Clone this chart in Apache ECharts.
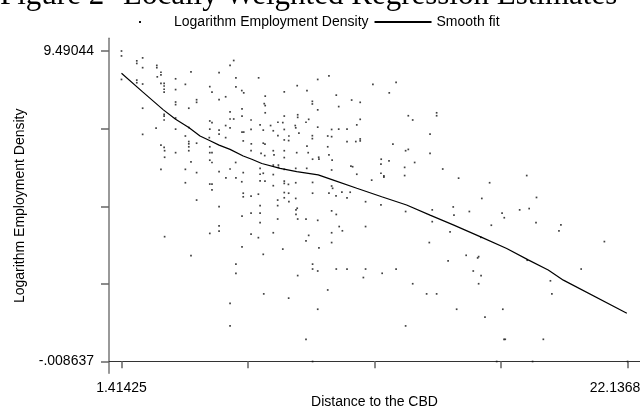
<!DOCTYPE html>
<html><head><meta charset="utf-8">
<script src="https://cdn.jsdelivr.net/npm/echarts@6/dist/echarts.min.js"></script>
<style>html,body{margin:0;padding:0;background:#fff}#c{width:640px;height:407px}</style>
</head><body><div id="c"></div>
<script>
// [distance to CBD, log employment density]
const observations = [
[1.414,9.49],[1.414,9.34],[2.04,9.19],[2.04,9.11],[2.28,9.28],[2.28,8.98],[2.04,8.60],[2.04,8.52],[2.28,8.48],[1.414,8.62],
[2.86,9.05],[2.86,8.98],[3.03,8.84],[3.03,8.76],[2.88,8.70],[4.26,8.85],[3.16,8.50],[3.16,8.42],[3.16,8.32],[3.16,8.23],
[3.03,8.50],[3.63,8.64],[3.63,8.31],[4.03,8.47],[3.63,7.93],[3.63,7.85],[4.49,8.00],[4.49,7.92],[2.28,7.74],[4.17,7.74],
[3.16,7.55],[3.16,7.50],[3.16,7.38],[3.63,7.44],[2.83,7.13],[2.28,6.94],[3.63,7.10],[4.17,7.15],[4.03,6.89],[4.17,6.72],
[4.17,6.65],[4.17,6.56],[3.03,6.61],[3.16,6.54],[4.49,6.67],
[3.18,6.44],[3.63,6.38],[4.17,6.44],[3.18,6.24],[4.26,6.10],[3.03,5.87],[4.03,5.87],[4.49,5.77],[4.03,5.46],[4.49,4.93],
[3.18,3.81],[4.26,3.23],
[6.01,9.20],[5.86,9.05],[5.41,8.83],[6.10,8.67],[7.03,8.67],[9.91,8.73],[9.45,8.62],[11.71,8.47],[12.66,8.53],[12.38,8.21],
[5.03,8.40],[5.12,8.23],[6.10,8.39],[6.34,8.28],[6.42,8.21],[8.61,8.43],[8.08,8.24],[9.01,8.28],[7.30,8.11],[10.21,8.14],
[10.84,7.99],[11.19,7.92],[5.41,8.00],[5.68,8.09],[9.23,7.95],[9.23,7.87],[10.31,7.79],[7.26,7.88],[7.30,7.82],[9.45,7.69],
[6.35,7.72],[5.86,7.63],[7.30,7.60],[8.08,7.50],[8.63,7.54],[8.63,7.46],[9.08,7.40],[8.97,7.31],[5.86,7.41],[6.01,7.41],
[6.35,7.50],[6.72,7.38],[7.82,7.31],[8.02,7.30],[5.03,7.35],[5.12,7.30],[11.19,7.40],[11.05,7.23],[7.09,7.23],[7.52,7.21],
[5.68,7.21],[5.86,7.14],[5.41,7.07],[5.03,7.10],[6.72,7.09],[7.22,7.07],[7.63,7.05],[8.08,7.09],[8.53,7.21],[8.55,7.14],
[9.45,7.16],[10.02,7.09],[10.31,7.10],[10.65,7.10],[6.35,7.01],[6.42,7.01],[5.41,6.95],[5.68,6.84],[5.01,6.84],[7.82,6.90],
[8.27,6.89],[8.68,6.98],[9.86,6.89],[10.02,6.87],[9.23,6.90],[9.23,6.81],[7.22,6.67],[7.29,6.64],[6.73,6.65],[6.40,6.74],
[8.08,6.77],[8.26,6.75],[10.65,6.72],[11.01,6.72],[11.19,6.80],[11.19,6.74],[12.53,6.64],[9.01,6.58],[9.86,6.56],[5.03,6.56],
[13.16,7.51],[13.34,7.38],[14.32,7.60],[14.32,7.51],[14.05,6.95],[13.05,6.44],[13.16,6.48],
[5.03,6.38],[5.12,6.38],[6.72,6.44],[7.13,6.36],[7.28,6.29],[7.63,6.44],[7.66,6.31],[8.08,6.44],[8.08,6.23],[8.59,6.38],
[9.06,6.38],[9.91,6.31],[9.24,6.18],[9.49,6.24],[9.50,6.18],[5.03,6.15],[5.12,6.08],[6.09,6.08],[10.04,6.15],[12.05,6.18],
[12.37,6.13],[5.41,5.80],[5.69,5.61],[5.86,5.88],[6.10,5.61],[6.40,5.77],[7.09,5.90],[7.09,5.72],[7.22,5.75],[7.63,6.00],
[7.63,5.71],[7.84,6.00],[7.84,5.93],[8.08,5.87],[8.55,5.90],[9.00,5.90],[10.02,5.85],[10.81,5.97],[10.88,5.95],[11.05,5.72],
[12.04,6.03],[12.04,5.75],[12.16,5.67],[12.16,5.63],[11.66,5.54],[5.03,5.42],[5.12,5.42],[5.12,5.24],[6.34,5.49],[7.09,5.52],
[7.29,5.51],[8.08,5.51],[8.08,5.44],[8.25,5.41],[8.55,5.46],[7.63,5.37],[9.24,5.47],[10.02,5.36],[10.06,5.29],[6.40,5.14],
[6.40,5.03],[6.72,5.05],[7.02,5.11],[8.08,5.16],[8.08,5.00],[8.26,5.14],[8.27,4.88],[8.55,4.98],[9.24,5.14],[9.91,5.14],
[10.20,5.06],[10.44,5.17],[10.65,5.00],[10.78,5.17],[11.41,4.88],[12.04,4.78],[5.41,4.73],[7.81,4.93],[7.81,4.76],[7.09,4.76],
[8.56,4.63],[8.61,4.68],[8.56,4.49],[6.35,4.44],[6.72,4.53],[7.09,4.53],[7.81,4.35],[8.63,4.35],[8.97,4.35],[9.45,4.31],
[10.02,4.60],[10.21,4.49],[7.09,4.24],[5.41,4.14],[5.41,3.98],[5.03,3.91],[6.72,3.89],[7.02,3.78],[7.63,3.93],[8.97,3.68],
[9.08,3.85],[10.02,3.93],[10.02,3.63],[10.33,4.12],[10.46,3.99],[11.41,4.12],[6.35,3.50],[8.02,3.43],[9.50,3.47],[7.22,3.27],
[6.10,2.97],[9.24,2.97],[9.24,2.82],[10.21,2.82],[10.65,2.82],[11.41,2.82],[12.66,2.82],
[14.05,6.36],[13.42,6.08],[13.01,5.93],[13.01,5.68],[14.57,5.88],[15.22,5.60],[18.01,5.68],[16.49,5.46],[13.05,4.58],[18.41,5.01],
[16.17,4.98],[14.14,4.63],[14.14,4.27],[15.00,4.72],[15.03,4.47],[15.66,4.58],[17.00,4.53],[17.09,4.39],[17.72,4.63],[18.11,4.67],
[18.39,4.24],[19.41,4.17],[19.33,3.99],[16.56,4.16],[14.87,3.96],[16.13,3.79],[14.02,3.63],[21.19,3.66],[15.53,3.24],[16.04,3.20],
[16.00,3.16],[14.79,3.07],[18.03,3.09],[20.24,2.82],
[6.10,2.69],[8.63,2.62],[9.45,2.76],[11.32,2.56],[12.09,2.69],[13.34,2.37],[7.24,2.06],[8.26,1.93],[9.86,2.18],[5.86,1.77],
[9.45,1.59],[5.86,1.08],[13.05,1.08],[8.97,0.67],[9.24,-0.0086],[15.82,2.76],[16.14,2.62],[13.91,2.06],[14.32,2.06],[16.04,2.37],
[18.98,2.46],[19.04,2.06],[15.14,1.59],[17.03,1.59],[16.30,1.35],[17.08,0.67],[17.13,0.67],[18.69,0.67],[16.78,-0.0086],[18.25,-0.0086],
[22.14,-0.0086]
];
const fitDistance = [1.414,2.28,3.13,3.63,4.17,4.63,5.02,5.41,5.86,6.40,6.75,7.16,7.91,8.59,9.47,10.09,11.05,12.07,13.09,14.05,15.00,16.17,17.19,18.07,18.89,19.51,22.11];
const fitValue    = [8.81,8.24,7.69,7.40,7.15,6.89,6.75,6.61,6.48,6.28,6.18,6.05,5.90,5.80,5.70,5.54,5.29,5.03,4.78,4.47,4.17,3.79,3.45,3.10,2.79,2.48,1.47];
const xTicks = [1.41425, 6.59489, 11.77553, 16.93617, 22.1368];
const xTickLabels = ['1.41425', '', '', '', '22.1368'];
const yTicks = [-0.008637, 2.36613, 4.7409, 7.11567, 9.49044];
const yTickLabels = ['-.008637', '', '', '', '9.49044'];

const SANS = 'Liberation Sans, Arial, Helvetica, sans-serif';
const SERIF = 'Liberation Serif, Times New Roman, serif';
function lookup(ticks, labels, v) {
  for (let i = 0; i < ticks.length; i++) if (Math.abs(ticks[i] - v) < 1e-6) return labels[i];
  return '';
}
const chart = echarts.init(document.getElementById('c'), null, {renderer: 'canvas'});
chart.setOption({
  animation: false,
  backgroundColor: '#fff',
  title: [
    {text: 'Figure 2', left: 0, top: -20, padding: 0, textStyle: {fontFamily: SERIF, fontSize: 31, fontWeight: 'normal', color: '#000'}},
    {text: 'Locally Weighted Regression Estimates', left: 123, top: -20, padding: 0, textStyle: {fontFamily: SERIF, fontSize: 31, fontWeight: 'normal', color: '#000'}}
  ],
  legend: {
    left: 112, top: 15, padding: 0, itemWidth: 57, itemHeight: 2, itemGap: 5,
    textStyle: {fontFamily: SANS, fontSize: 14, color: '#000'},
    data: [
      {name: 'Logarithm Employment Density', icon: 'rect', itemStyle: {opacity: 0}},
      {name: 'Smooth fit'}
    ]
  },
  graphic: [
    // small dot serving as the scatter legend key
    {type: 'rect', left: 139, top: 21, shape: {width: 2, height: 2}, style: {fill: '#111'}, silent: true}
  ],
  grid: {left: 109, right: 0, top: 38.3, bottom: 33.7, outerBoundsMode: 'none', containLabel: false},
  xAxis: {
    type: 'value', min: 0.9023, max: 22.6487,
    name: 'Distance to the CBD', nameLocation: 'middle', nameGap: 22, nameMoveOverlap: false,
    nameTextStyle: {fontFamily: SANS, fontSize: 14, color: '#000'},
    axisLine: {lineStyle: {color: '#333', width: 1}},
    axisTick: {customValues: xTicks, length: 7, lineStyle: {color: '#666', width: 1.5}},
    axisLabel: {
      customValues: [xTicks[0], xTicks[4]], margin: 8,
      fontFamily: SANS, fontSize: 14, color: '#000',
      formatter: function (v) { const s = lookup(xTicks, xTickLabels, v); return v > 20 ? '{r|' + s + '}' : s; },
      rich: {r: {fontFamily: SANS, fontSize: 14, color: '#000', padding: [0, 25, 0, 0]}}
    },
    splitLine: {show: false}
  },
  yAxis: {
    type: 'value', min: -0.3696, max: 9.879,
    name: 'Logarithm Employment Density', nameLocation: 'middle', nameGap: 82, nameMoveOverlap: false,
    nameTextStyle: {fontFamily: SANS, fontSize: 14, color: '#000'},
    axisLine: {show: true, lineStyle: {color: '#777', width: 1.5}},
    axisTick: {show: true, customValues: yTicks, length: 8, lineStyle: {color: '#666', width: 1.5}},
    axisLabel: {
      customValues: [yTicks[0], yTicks[4]], margin: 15,
      fontFamily: SANS, fontSize: 14, color: '#000',
      formatter: function (v) { return lookup(yTicks, yTickLabels, v); }
    },
    splitLine: {show: false}
  },
  series: [
    {
      type: 'scatter', name: 'Logarithm Employment Density', data: observations,
      symbol: 'rect', symbolSize: 1.7, itemStyle: {color: '#111'}, silent: true
    },
    {
      type: 'line', name: 'Smooth fit',
      data: fitDistance.map(function (x, i) { return [x, fitValue[i]]; }),
      symbol: 'none', lineStyle: {color: '#000', width: 1.2}, itemStyle: {color: '#000'}, silent: true
    }
  ]
});
</script></body></html>
